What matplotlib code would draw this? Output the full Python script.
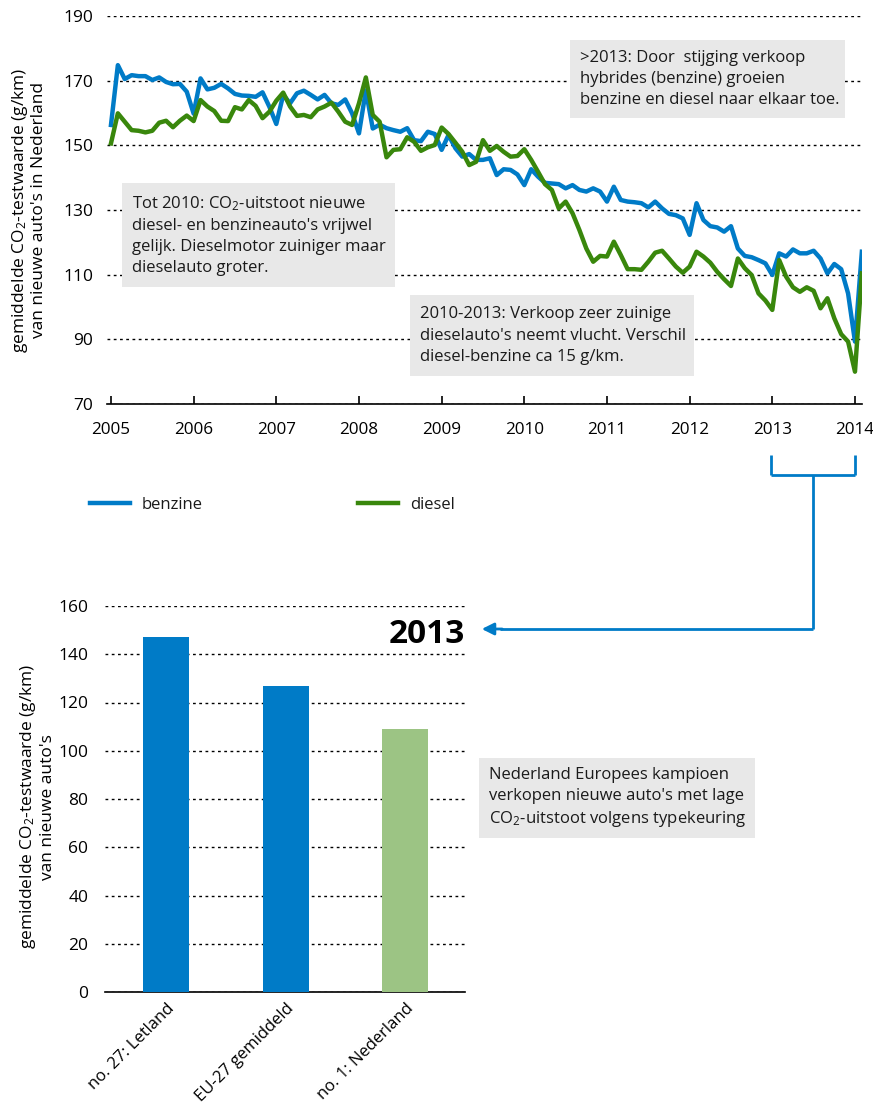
import numpy as np
import matplotlib
matplotlib.use("Agg")
import matplotlib.pyplot as plt
from matplotlib.lines import Line2D
from matplotlib.patches import Rectangle, FancyArrowPatch

plt.rcParams['font.family'] = ['Open Sans', 'DejaVu Sans']
plt.rcParams['mathtext.fontset'] = 'custom'
plt.rcParams['mathtext.rm'] = 'Open Sans'
plt.rcParams['mathtext.it'] = 'Open Sans'
plt.rcParams['text.color'] = '#1a1a1a'

BLUE = '#007bc7'
GREEN = '#39870c'
LIGHTGREEN = '#9cc484'
BOXGREY = '#e8e8e8'

# monthly values, Jan 2005 .. Feb 2014
benzine = [
    156.3, 174.8, 170.5, 171.7, 171.4, 171.4, 170.2, 171.0, 169.6, 168.9, 169.0, 166.6,
    159.8, 170.7, 167.3, 167.8, 169.0, 167.6, 165.9, 165.4, 165.3, 165.0, 166.4, 161.9,
    156.6, 165.6, 163.0, 166.1, 166.9, 165.6, 164.2, 165.6, 163.0, 162.5, 164.2, 159.9,
    153.7, 167.0, 155.2, 156.4, 155.3, 154.7, 154.2, 155.3, 151.6, 151.3, 154.2, 153.5,
    148.6, 153.2, 149.1, 146.5, 147.3, 145.5, 145.5, 146.0, 140.8, 142.6, 142.4, 141.0,
    137.7, 142.6, 140.3, 138.4, 138.2, 138.0, 136.7, 137.7, 136.2, 135.7, 136.7, 135.7,
    132.6, 137.2, 133.1, 132.6, 132.4, 132.1, 130.8, 132.6, 130.5, 128.8, 128.4, 127.4,
    122.3, 132.1, 126.9, 125.0, 124.6, 123.3, 125.0, 118.1, 115.8, 115.4, 114.5, 113.5,
    109.9, 116.6, 115.6, 117.8, 116.6, 116.6, 117.4, 115.0, 110.4, 113.3, 111.7, 104.2,
    89.3, 117.1,
]
diesel = [
    150.6, 159.9, 157.3, 154.7, 154.5, 154.0, 154.5, 157.0, 157.6, 155.6, 157.6, 159.2,
    157.5, 164.0, 162.0, 160.6, 157.6, 157.5, 161.8, 161.1, 164.0, 162.2, 158.4, 160.4,
    163.8, 166.3, 162.0, 159.1, 159.4, 158.7, 161.1, 162.0, 163.2, 160.4, 157.3, 156.3,
    163.0, 171.0, 159.4, 157.3, 146.3, 148.6, 148.8, 152.5, 151.1, 148.3, 149.4, 150.1,
    155.5, 153.5, 150.8, 148.0, 143.9, 144.9, 151.6, 148.3, 149.8, 148.0, 146.5, 146.7,
    148.8, 145.5, 141.8, 138.0, 136.2, 130.5, 132.6, 129.0, 123.8, 118.1, 114.0, 115.8,
    115.6, 120.2, 116.1, 111.7, 111.7, 111.5, 114.0, 116.8, 117.4, 115.0, 112.5, 110.6,
    112.5, 117.1, 115.6, 113.7, 110.9, 108.6, 106.5, 115.0, 112.0, 109.9, 104.2, 102.0,
    99.1, 114.5, 109.4, 106.1, 104.7, 106.1, 105.0, 99.6, 102.7, 96.5, 91.6, 89.3,
    80.0, 110.4,
]
months = 2005 + np.arange(len(benzine)) / 12.0
years = list(range(2005, 2015))

landen = ['no. 27: Letland', 'EU-27 gemiddeld', 'no. 1: Nederland']
waarden_2013 = [147, 127, 109]
bar_colors = [BLUE, BLUE, LIGHTGREEN]

W, H = 873, 1106
fig = plt.figure(figsize=(W / 100, H / 100), dpi=100)


def fx(x):
    return x / W


def fy(y):
    return 1 - y / H


# ---- top chart: line plot ----
ax1 = fig.add_axes([fx(107), fy(404), fx(862) - fx(107), fy(16) - fy(404)])
ax1.plot(months, benzine, color=BLUE, lw=3.2, solid_joinstyle='round', zorder=3)
ax1.plot(months, diesel, color=GREEN, lw=3.2, solid_joinstyle='round', zorder=3)
ax1.set_xlim(2004.952, 2014.085)
ax1.set_ylim(70, 190)
ax1.set_yticks(range(70, 191, 20))
ax1.set_xticks(years)
ax1.grid(axis='y', color='black', linestyle=(0, (2, 2.5)), lw=1)
ax1.grid(axis='x', visible=False)
for s in ['top', 'right', 'left']:
    ax1.spines[s].set_visible(False)
ax1.spines['bottom'].set_linewidth(1.2)
ax1.tick_params(axis='y', length=0, pad=10, labelsize=12.5)
ax1.tick_params(axis='x', direction='in', length=6, width=1.2, pad=13, labelsize=12.3)
ax1.set_ylabel('gemiddelde CO$_2$-testwaarde (g/km)\nvan nieuwe auto\'s in Nederland',
               fontsize=12.5, linespacing=1.1)
ax1.yaxis.set_label_coords(-0.079, 0.5)

# legend
fig.legend(handles=[Line2D([], [], color=BLUE, lw=3.2), Line2D([], [], color=GREEN, lw=3.2)],
           labels=['benzine', 'diesel'], loc='center left',
           bbox_to_anchor=(fx(90), fy(505)), ncol=2, frameon=False, fontsize=12,
           handlelength=2.4, handletextpad=0.72, columnspacing=9.3, borderpad=0, borderaxespad=0)

# ---- bottom chart: bars ----
ax2 = fig.add_axes([fx(105), fy(992), fx(465) - fx(105), fy(606) - fy(992)])
ax2.bar(range(len(landen)), waarden_2013, width=0.385, color=bar_colors, zorder=3)
ax2.set_xlim(-0.51, 2.5)
ax2.set_ylim(0, 160)
ax2.set_yticks(range(0, 161, 20))
ax2.set_xticks(range(len(landen)))
ax2.set_xticklabels(landen, rotation=45, ha='right', rotation_mode='anchor', fontsize=12)
ax2.grid(axis='y', color='black', linestyle=(0, (2, 2.5)), lw=1)
ax2.grid(axis='x', visible=False)
for s in ['top', 'right', 'left']:
    ax2.spines[s].set_visible(False)
ax2.spines['bottom'].set_linewidth(1.2)
ax2.tick_params(axis='y', length=0, pad=12, labelsize=12.5)
ax2.tick_params(axis='x', length=0, pad=6)
ax2.set_ylabel('gemiddelde CO$_2$-testwaarde (g/km)\nvan nieuwe auto\'s',
               fontsize=12.5, linespacing=1.1)
ax2.yaxis.set_label_coords(-0.137, 0.48)
ax2.text(1.0, 0.925, '2013', transform=ax2.transAxes, ha='right', va='center',
         fontsize=24, fontweight='bold', color='black')

# ---- annotation boxes ----
boxes = [
    (570, 40, 845, 118, '>2013: Door  stijging verkoop\nhybrides (benzine) groeien\nbenzine en diesel naar elkaar toe.'),
    (122, 183, 395, 287, 'Tot 2010: CO$_2$-uitstoot nieuwe\ndiesel- en benzineauto\'s vrijwel\ngelijk. Dieselmotor zuiniger maar\ndieselauto groter.'),
    (410, 295, 694, 376, '2010-2013: Verkoop zeer zuinige\ndieselauto\'s neemt vlucht. Verschil\ndiesel-benzine ca 15 g/km.'),
    (479, 758, 755, 838, 'Nederland Europees kampioen\nverkopen nieuwe auto\'s met lage\nCO$_2$-uitstoot volgens typekeuring'),
]
for x0, y0, x1, y1, txt in boxes:
    fig.add_artist(Rectangle((fx(x0), fy(y1)), fx(x1) - fx(x0), fy(y0) - fy(y1),
                             transform=fig.transFigure, facecolor=BOXGREY, edgecolor='none', zorder=5))
    fig.text(fx(x0 + 10), fy((y0 + y1) / 2), txt, ha='left', va='center', fontsize=12,
             linespacing=1.42, zorder=6)

# ---- bracket and arrow linking 2013-2014 to bar chart ----
bx0, bx1, bmid = 771, 855, 813
for seg in [((bx0, bx0), (455, 475)), ((bx1, bx1), (455, 475)), ((bx0, bx1), (475, 475)),
            ((bmid, bmid), (475, 629)), ((bmid, 500), (629, 629))]:
    fig.add_artist(Line2D([fx(v) for v in seg[0]], [fy(v) for v in seg[1]],
                          transform=fig.transFigure, color=BLUE, lw=2, solid_capstyle='butt'))
fig.add_artist(FancyArrowPatch((fx(505), fy(629)), (fx(479), fy(629)), transform=fig.transFigure,
                               arrowstyle='-|>', mutation_scale=18, color=BLUE, lw=2))

fig.savefig('out.png', dpi=100)
